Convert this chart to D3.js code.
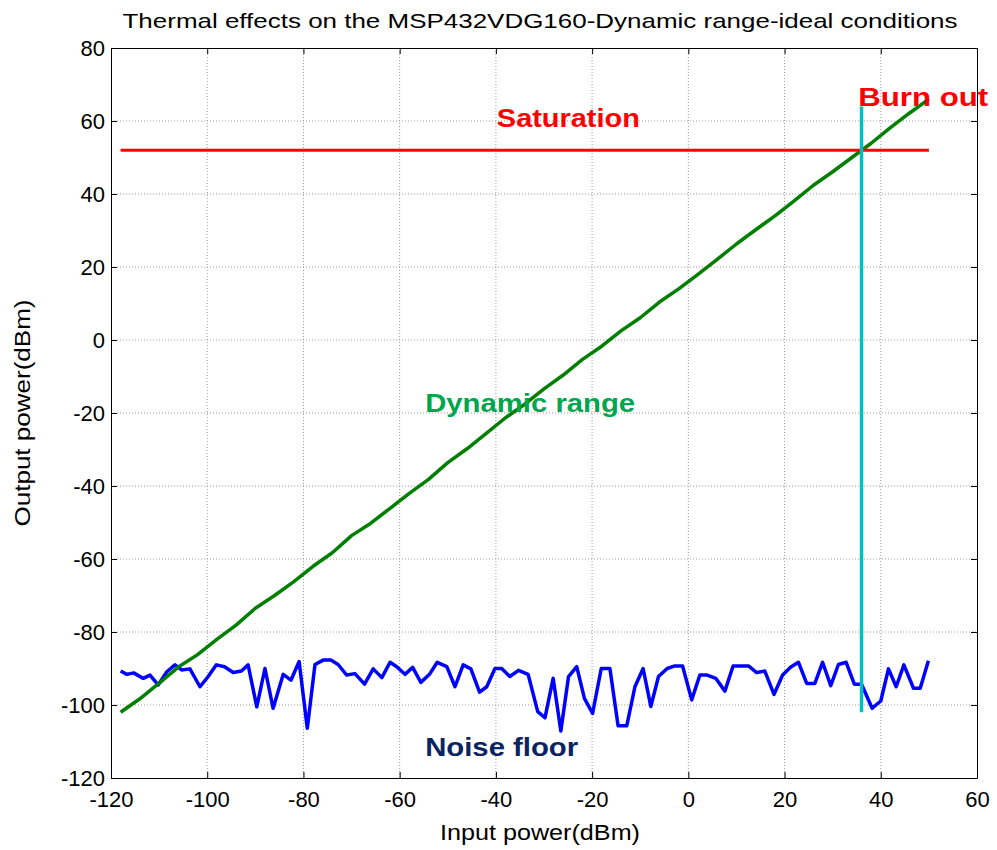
<!DOCTYPE html>
<html>
<head>
<meta charset="utf-8">
<script src="https://cdn.jsdelivr.net/npm/d3@7"></script>
<style>
    body { margin: 0; background: #fff; }
    svg { font-family: "Liberation Sans", Arial, sans-serif; }
    .grid line { stroke: #9a9a9a; stroke-dasharray: 1,2; }
    .axis path, .axis line { stroke: #000; }
    .axis text { font-size: 22px; fill: #000; }
</style>
</head>
<body>
<svg id="chart"></svg>
<script>
// tick values
var xTicks = [-120, -100, -80, -60, -40, -20, 0, 20, 40, 60];
var yTicks = [-120, -100, -80, -60, -40, -20, 0, 20, 40, 60, 80];

// noise floor (blue)
var noiseX = [-118, -116.7, -115.3, -113.3, -111.9, -110.2, -108.4, -106.7, -105.3, -103.6, -101.5, -99.8, -98.1, -96.4, -94.6, -92.9, -91.5,
    -89.7, -88, -86.3, -84.2, -82.6, -80.9, -79.2, -77.6, -75.9, -74.3, -72.8, -71, -69.3, -67.3, -65.5, -63.7,
    -62, -60.6, -58.9, -57.3, -55.6, -53.8, -52.2, -50.2, -48.5, -46.8, -45.2, -43.4, -41.9, -40.2, -38.8, -37.1, -35.3,
    -33.3, -31.3, -29.8, -28.1, -26.5, -24.9, -23.2, -21.6, -19.9, -18.1, -16.3, -14.6, -12.8, -11.1, -9.4, -7.8,
    -6.2, -4.4, -2.8, -1.2, 0.7, 2.4, 3.9, 5.7, 7.6, 9.3, 10.9, 12.5, 14.2, 15.9, 17.8, 19.6,
    21.3, 22.9, 24.6, 26.3, 27.9, 29.6, 31.2, 32.8, 34.5, 36, 38.2, 40, 41.6, 43.2, 44.8, 46.8, 48.2, 49.9];
var noiseY = [-90.7, -91.6, -91.2, -92.7, -91.8, -94.5, -90.9, -89, -90.4, -90.1, -95, -92.2, -89, -89.5, -91.1, -90.7, -89,
    -100.5, -90, -100.9, -91.6, -93.2, -88.1, -106.4, -88.9, -87.7, -87.7, -88.9, -91.8, -91.4, -94.3, -90.1, -92.5,
    -88.3, -89.5, -91.6, -89.7, -93.8, -91.6, -88.3, -89.5, -95, -89, -90.1, -96.5, -95, -90, -90, -92.2, -90.5,
    -91.6, -101.8, -103.5, -92.7, -107.1, -92.2, -89.5, -98.2, -102.3, -90, -90, -105.7, -105.7, -95, -90, -100.4,
    -92.2, -90, -89.3, -89.3, -98.6, -91.8, -91.8, -92.7, -96.2, -89.3, -89.3, -89.3, -91.1, -90.7, -97.1, -91.8,
    -89.6, -88.3, -94.1, -94.1, -88.3, -94.7, -88.9, -88.3, -94.3, -94.3, -100.9, -98.9, -90.1, -95, -89, -95.4, -95.4, -87.9];

// dynamic range (green)
var rangeX = [-118, -114, -110, -106, -102, -98, -94, -90, -86, -82, -78, -74, -70, -66, -62, -58, -54, -50, -46, -42, -38,
    -34, -30, -26, -22, -18, -14, -10, -6, -2, 2, 6, 10, 14, 18, 22, 26, 30, 34, 38, 42, 46, 50];
var rangeY = [-102, -98.3, -94, -89.6, -86.2, -82, -78.1, -73.5, -70, -66.2, -62, -58.3, -53.6, -50.2, -46.1, -42, -38.2, -33.6, -29.8, -25.6, -21.3,
    -17.6, -13.4, -9.6, -5.3, -1.7, 2.5, 6.1, 10.4, 14, 18, 22.1, 26.3, 30.2, 34, 38.1, 42.4, 46.1, 50, 53.9, 58.2, 62.2, 66];

// saturation (red) and burn out (cyan)
var saturationX = [-118, 50], saturationY = [52, 52];
var burnoutX = [36, 36], burnoutY = [-102, 64];

// annotation texts: [text, x, y]
var notes = [['Saturation', -39.8, 58.4], ['Burn out', 35.3, 64.1], ['Dynamic range', -54.7, -19.7], ['Noise floor', -54.7, -114]];

function zip(xs, ys) {
    return xs.map(function(d, i) { return [d, ys[i]]; });
}

// plain hyphen minus, like matlab
function tickText(d) {
    return String(d);
}

function drawChart(selector) {
    var svgWidth = 997,
        svgHeight = 850;
    var padding = {left: 111, right: 20, top: 48, bottom: 72};
    var w = svgWidth - padding.left - padding.right,
        h = svgHeight - padding.top - padding.bottom;
    var svg = d3.select(selector)
        .attr('width', svgWidth)
        .attr('height', svgHeight);
    var g = svg.append('g')
        .attr('transform', 'translate(' + padding.left + ',' + padding.top + ')');

    var x = d3.scaleLinear().domain([-120, 60]).range([0, w]);
    var y = d3.scaleLinear().domain([-120, 80]).range([h, 0]);

    // grid
    g.append('g').attr('class', 'grid')
        .selectAll('line').data(xTicks.slice(1, -1)).enter().append('line')
        .attr('x1', function(d) { return x(d); }).attr('x2', function(d) { return x(d); })
        .attr('y1', 0).attr('y2', h);
    g.append('g').attr('class', 'grid')
        .selectAll('line').data(yTicks.slice(1, -1)).enter().append('line')
        .attr('y1', function(d) { return y(d); }).attr('y2', function(d) { return y(d); })
        .attr('x1', 0).attr('x2', w);

    // lines
    var line = d3.line()
        .x(function(d) { return x(d[0]); })
        .y(function(d) { return y(d[1]); });
    var series = [
        [zip(noiseX, noiseY), '#0000ff', 3.5],
        [zip(rangeX, rangeY), '#007f00', 3.5],
        [zip(saturationX, saturationY), '#ff0000', 3],
        [zip(burnoutX, burnoutY), '#00bfbf', 3.5]
    ];
    g.selectAll('.series')
        .data(series)
        .enter()
        .append('path')
        .attr('class', 'series')
        .attr('d', function(d) { return line(d[0]); })
        .attr('fill', 'none')
        .attr('stroke', function(d) { return d[1]; })
        .attr('stroke-width', function(d) { return d[2]; })
        .attr('stroke-linejoin', 'round');

    // axes, ticks point inward like matlab
    g.append('g').attr('class', 'axis')
        .attr('transform', 'translate(0,' + h + ')')
        .call(d3.axisBottom(x).tickValues(xTicks).tickFormat(tickText).tickSizeInner(-6).tickSizeOuter(0).tickPadding(13));
    g.append('g').attr('class', 'axis')
        .call(d3.axisLeft(y).tickValues(yTicks).tickFormat(tickText).tickSizeInner(-6).tickSizeOuter(0).tickPadding(6));
    g.append('g').attr('class', 'axis')
        .call(d3.axisTop(x).tickValues(xTicks).tickSizeInner(-6).tickSizeOuter(0).tickFormat(''));
    g.append('g').attr('class', 'axis')
        .attr('transform', 'translate(' + w + ',0)')
        .call(d3.axisRight(y).tickValues(yTicks).tickSizeInner(-6).tickSizeOuter(0).tickFormat(''));

    // annotations
    var noteStyle = [['#ff0000', 143], ['#ff0000', 130], ['#00a64f', 210], ['#0a2463', 153]];
    g.selectAll('.note')
        .data(notes)
        .enter()
        .append('text')
        .attr('class', 'note')
        .attr('x', function(d) { return x(d[1]); })
        .attr('y', function(d) { return y(d[2]); })
        .attr('textLength', function(d, i) { return noteStyle[i][1]; })
        .attr('lengthAdjust', 'spacingAndGlyphs')
        .style('font-size', '26px')
        .style('font-weight', 'bold')
        .style('fill', function(d, i) { return noteStyle[i][0]; })
        .text(function(d) { return d[0]; });

    // title
    svg.append('text')
        .attr('x', 540).attr('y', 28)
        .attr('text-anchor', 'middle')
        .attr('textLength', 835).attr('lengthAdjust', 'spacingAndGlyphs')
        .style('font-size', '21px')
        .text('Thermal effects on the MSP432VDG160-Dynamic range-ideal conditions');
    // x label
    svg.append('text')
        .attr('x', 540).attr('y', 840)
        .attr('text-anchor', 'middle')
        .attr('textLength', 200).attr('lengthAdjust', 'spacingAndGlyphs')
        .style('font-size', '22px')
        .text('Input power(dBm)');
    // y label
    svg.append('text')
        .attr('transform', 'translate(30,413) rotate(-90)')
        .attr('text-anchor', 'middle')
        .attr('textLength', 227).attr('lengthAdjust', 'spacingAndGlyphs')
        .style('font-size', '22px')
        .text('Output power(dBm)');
}
drawChart('#chart');
</script>
</body>
</html>
